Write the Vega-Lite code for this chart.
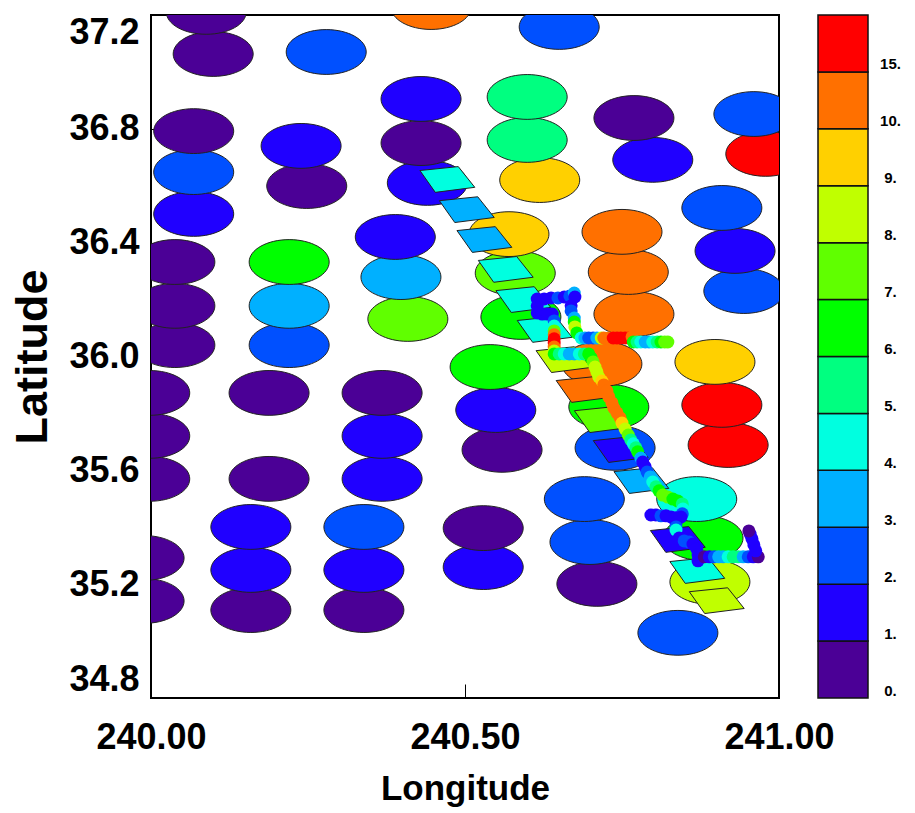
{
"$schema":"https://vega.github.io/schema/vega-lite/v6.json",
"padding":{"left":9,"top":13,"right":0,"bottom":0},
"bounds":"flush",
"spacing":39,
"config":{"view":{"stroke":"black","strokeWidth":2},"concat":{"spacing":39}},
"datasets":{
"ellipses":[
{"lon":240.839,"lat":35.029,"v":2},{"lon":240.159,"lat":35.109,"v":0},{"lon":240.339,"lat":35.109,"v":0},{"lon":239.989,"lat":35.141,"v":0},{"lon":240.710,"lat":35.201,"v":0},{"lon":240.890,"lat":35.208,"v":8},{"lon":240.159,"lat":35.250,"v":1},{"lon":240.339,"lat":35.250,"v":1},{"lon":240.529,"lat":35.260,"v":1},{"lon":239.989,"lat":35.292,"v":0},{"lon":240.699,"lat":35.348,"v":2},{"lon":240.879,"lat":35.362,"v":6},{"lon":240.529,"lat":35.397,"v":0},{"lon":240.159,"lat":35.401,"v":1},{"lon":240.339,"lat":35.401,"v":2},{"lon":240.869,"lat":35.499,"v":4},{"lon":240.690,"lat":35.499,"v":2},{"lon":239.998,"lat":35.570,"v":0},{"lon":240.188,"lat":35.570,"v":0},{"lon":240.368,"lat":35.570,"v":1},{"lon":240.559,"lat":35.672,"v":0},{"lon":240.739,"lat":35.679,"v":2},{"lon":240.919,"lat":35.689,"v":11},{"lon":239.998,"lat":35.721,"v":0},{"lon":240.368,"lat":35.721,"v":1},{"lon":240.549,"lat":35.812,"v":1},{"lon":240.729,"lat":35.823,"v":6},{"lon":240.909,"lat":35.830,"v":11},{"lon":239.998,"lat":35.872,"v":0},{"lon":240.188,"lat":35.872,"v":0},{"lon":240.368,"lat":35.872,"v":0},{"lon":240.540,"lat":35.963,"v":6},{"lon":240.718,"lat":35.974,"v":10},{"lon":240.898,"lat":35.981,"v":9},{"lon":240.038,"lat":36.040,"v":0},{"lon":240.220,"lat":36.040,"v":2},{"lon":240.409,"lat":36.132,"v":7},{"lon":240.589,"lat":36.139,"v":6},{"lon":240.769,"lat":36.149,"v":10},{"lon":240.038,"lat":36.178,"v":0},{"lon":240.220,"lat":36.178,"v":3},{"lon":240.944,"lat":36.230,"v":2},{"lon":240.398,"lat":36.279,"v":3},{"lon":240.580,"lat":36.293,"v":7},{"lon":240.760,"lat":36.297,"v":10},{"lon":240.038,"lat":36.332,"v":0},{"lon":240.220,"lat":36.332,"v":6},{"lon":240.930,"lat":36.371,"v":1},{"lon":240.389,"lat":36.420,"v":1},{"lon":240.570,"lat":36.430,"v":9},{"lon":240.750,"lat":36.438,"v":10},{"lon":240.068,"lat":36.501,"v":1},{"lon":240.909,"lat":36.522,"v":2},{"lon":240.248,"lat":36.599,"v":0},{"lon":240.440,"lat":36.610,"v":1},{"lon":240.619,"lat":36.620,"v":9},{"lon":240.068,"lat":36.648,"v":2},{"lon":240.799,"lat":36.691,"v":1},{"lon":240.979,"lat":36.712,"v":11},{"lon":240.239,"lat":36.740,"v":1},{"lon":240.430,"lat":36.750,"v":0},{"lon":240.599,"lat":36.761,"v":5},{"lon":240.068,"lat":36.792,"v":0},{"lon":240.769,"lat":36.838,"v":0},{"lon":240.960,"lat":36.852,"v":2},{"lon":240.430,"lat":36.905,"v":1},{"lon":240.599,"lat":36.912,"v":5},{"lon":240.099,"lat":37.063,"v":0},{"lon":240.279,"lat":37.070,"v":2},{"lon":240.650,"lat":37.158,"v":2},{"lon":240.088,"lat":37.211,"v":0},{"lon":240.446,"lat":37.228,"v":10}
],
"boxes":[
{"lon":240.471,"lat":36.624,"v":4},{"lon":240.502,"lat":36.518,"v":3},{"lon":240.530,"lat":36.413,"v":3},{"lon":240.564,"lat":36.308,"v":4},{"lon":240.592,"lat":36.202,"v":4},{"lon":240.626,"lat":36.097,"v":4},{"lon":240.656,"lat":35.991,"v":8},{"lon":240.688,"lat":35.886,"v":10},{"lon":240.717,"lat":35.780,"v":7},{"lon":240.747,"lat":35.675,"v":1},{"lon":240.780,"lat":35.566,"v":3},{"lon":240.838,"lat":35.359,"v":1},{"lon":240.869,"lat":35.250,"v":4},{"lon":240.900,"lat":35.144,"v":8}
],
"track":[
{"lon":240.615,"lat":36.202,"v":1},{"lon":240.626,"lat":36.202,"v":1},{"lon":240.637,"lat":36.206,"v":1},{"lon":240.648,"lat":36.206,"v":2},{"lon":240.658,"lat":36.209,"v":1},{"lon":240.667,"lat":36.213,"v":2},{"lon":240.674,"lat":36.223,"v":3},{"lon":240.675,"lat":36.209,"v":1},{"lon":240.669,"lat":36.178,"v":1},{"lon":240.669,"lat":36.160,"v":2},{"lon":240.674,"lat":36.135,"v":3},{"lon":240.674,"lat":36.121,"v":6},{"lon":240.675,"lat":36.104,"v":8},{"lon":240.678,"lat":36.083,"v":6},{"lon":240.685,"lat":36.065,"v":4},{"lon":240.691,"lat":36.065,"v":3},{"lon":240.697,"lat":36.065,"v":2},{"lon":240.704,"lat":36.065,"v":2},{"lon":240.710,"lat":36.065,"v":3},{"lon":240.717,"lat":36.065,"v":8},{"lon":240.721,"lat":36.065,"v":10},{"lon":240.729,"lat":36.065,"v":10},{"lon":240.736,"lat":36.065,"v":11},{"lon":240.742,"lat":36.065,"v":11},{"lon":240.748,"lat":36.065,"v":11},{"lon":240.755,"lat":36.065,"v":11},{"lon":240.761,"lat":36.065,"v":11},{"lon":240.766,"lat":36.069,"v":10},{"lon":240.768,"lat":36.051,"v":6},{"lon":240.774,"lat":36.051,"v":5},{"lon":240.780,"lat":36.051,"v":4},{"lon":240.787,"lat":36.051,"v":3},{"lon":240.793,"lat":36.051,"v":3},{"lon":240.799,"lat":36.051,"v":4},{"lon":240.806,"lat":36.051,"v":5},{"lon":240.812,"lat":36.051,"v":6},{"lon":240.818,"lat":36.051,"v":7},{"lon":240.823,"lat":36.051,"v":7},
{"lon":240.615,"lat":36.178,"v":1},{"lon":240.615,"lat":36.153,"v":1},{"lon":240.623,"lat":36.149,"v":1},{"lon":240.631,"lat":36.149,"v":1},{"lon":240.639,"lat":36.149,"v":1},{"lon":240.642,"lat":36.125,"v":2},{"lon":240.642,"lat":36.107,"v":4},{"lon":240.642,"lat":36.090,"v":7},{"lon":240.642,"lat":36.076,"v":10},{"lon":240.642,"lat":36.062,"v":11},{"lon":240.642,"lat":36.047,"v":11},{"lon":240.642,"lat":36.033,"v":10},{"lon":240.642,"lat":36.019,"v":8},{"lon":240.642,"lat":36.009,"v":6},{"lon":240.650,"lat":36.009,"v":5},{"lon":240.658,"lat":36.009,"v":4},{"lon":240.666,"lat":36.009,"v":3},{"lon":240.674,"lat":36.009,"v":3},{"lon":240.682,"lat":36.009,"v":4},{"lon":240.690,"lat":36.009,"v":5},{"lon":240.697,"lat":36.009,"v":6},{"lon":240.701,"lat":35.995,"v":6},{"lon":240.704,"lat":35.981,"v":7},{"lon":240.707,"lat":35.963,"v":8},{"lon":240.710,"lat":35.946,"v":8},{"lon":240.713,"lat":35.928,"v":8},{"lon":240.718,"lat":35.914,"v":9},{"lon":240.721,"lat":35.900,"v":10},{"lon":240.726,"lat":35.879,"v":10},{"lon":240.729,"lat":35.858,"v":10},{"lon":240.734,"lat":35.837,"v":10},{"lon":240.737,"lat":35.819,"v":10},{"lon":240.742,"lat":35.802,"v":10},{"lon":240.747,"lat":35.784,"v":10},{"lon":240.750,"lat":35.766,"v":9},{"lon":240.755,"lat":35.745,"v":8},{"lon":240.760,"lat":35.724,"v":7},{"lon":240.764,"lat":35.707,"v":5},{"lon":240.768,"lat":35.693,"v":4},{"lon":240.772,"lat":35.679,"v":5},{"lon":240.775,"lat":35.665,"v":6},{"lon":240.780,"lat":35.643,"v":3},{"lon":240.783,"lat":35.629,"v":1},{"lon":240.787,"lat":35.612,"v":1},{"lon":240.790,"lat":35.594,"v":2},{"lon":240.795,"lat":35.577,"v":3},{"lon":240.799,"lat":35.559,"v":4},{"lon":240.804,"lat":35.542,"v":5},{"lon":240.809,"lat":35.528,"v":6},{"lon":240.815,"lat":35.513,"v":7},{"lon":240.823,"lat":35.506,"v":7},{"lon":240.831,"lat":35.499,"v":6},{"lon":240.839,"lat":35.492,"v":6},{"lon":240.846,"lat":35.482,"v":5},{"lon":240.847,"lat":35.464,"v":4},{"lon":240.846,"lat":35.447,"v":2},{"lon":240.844,"lat":35.436,"v":1},
{"lon":240.796,"lat":35.443,"v":1},{"lon":240.804,"lat":35.443,"v":1},{"lon":240.812,"lat":35.440,"v":2},{"lon":240.820,"lat":35.440,"v":1},{"lon":240.828,"lat":35.436,"v":1},{"lon":240.836,"lat":35.433,"v":1},{"lon":240.836,"lat":35.415,"v":1},{"lon":240.836,"lat":35.401,"v":2},{"lon":240.836,"lat":35.390,"v":4},{"lon":240.841,"lat":35.362,"v":1},{"lon":240.849,"lat":35.352,"v":2},{"lon":240.857,"lat":35.348,"v":2},{"lon":240.863,"lat":35.341,"v":1},{"lon":240.869,"lat":35.324,"v":1},{"lon":240.871,"lat":35.303,"v":1},{"lon":240.871,"lat":35.282,"v":1},
{"lon":240.881,"lat":35.296,"v":0},{"lon":240.889,"lat":35.296,"v":1},{"lon":240.897,"lat":35.296,"v":2},{"lon":240.904,"lat":35.296,"v":3},{"lon":240.911,"lat":35.296,"v":3},{"lon":240.919,"lat":35.296,"v":4},{"lon":240.927,"lat":35.296,"v":5},{"lon":240.935,"lat":35.296,"v":5},{"lon":240.943,"lat":35.296,"v":3},{"lon":240.951,"lat":35.296,"v":2},{"lon":240.959,"lat":35.296,"v":1},{"lon":240.967,"lat":35.296,"v":0},{"lon":240.963,"lat":35.317,"v":1},{"lon":240.960,"lat":35.338,"v":1},{"lon":240.957,"lat":35.359,"v":1},{"lon":240.954,"lat":35.376,"v":1},{"lon":240.952,"lat":35.387,"v":0}
],
"bands":[
{"lo":0,"hi":1,"v":0},{"lo":1,"hi":2,"v":1},{"lo":2,"hi":3,"v":2},{"lo":3,"hi":4,"v":3},{"lo":4,"hi":5,"v":4},{"lo":5,"hi":6,"v":5},{"lo":6,"hi":7,"v":6},{"lo":7,"hi":8,"v":7},{"lo":8,"hi":9,"v":8},{"lo":9,"hi":10,"v":9},{"lo":10,"hi":11,"v":10},{"lo":11,"hi":12,"v":11}
]
},
"hconcat":[
{
"width":628,"height":683,
"encoding":{
"x":{"field":"lon","type":"quantitative","scale":{"domain":[240,241],"nice":false,"zero":false},
"axis":{"values":[240,240.5,241],"format":".2f","title":"Longitude","grid":false,"domain":false,"tickSize":-14,"tickColor":"black","labelFlush":false,"labelOverlap":false,"labelFont":"Liberation Sans","labelFontWeight":"bold","labelFontSize":36,"labelColor":"black","labelPadding":36,"titleFont":"Liberation Sans","titleFontWeight":"bold","titleFontSize":35,"titleColor":"black","titlePadding":16}},
"y":{"field":"lat","type":"quantitative","scale":{"domain":[34.8,37.2],"nice":false,"zero":false},
"axis":{"values":[34.8,35.2,35.6,36.0,36.4,36.8,37.2],"format":".1f","title":"Latitude","grid":false,"domain":false,"tickSize":-5,"tickColor":"black","labelFlush":true,"labelFont":"Liberation Sans","labelFontWeight":"bold","labelFontSize":36,"labelColor":"black","labelPadding":17,"titleFont":"Liberation Sans","titleFontWeight":"bold","titleFontSize":45,"titleColor":"black","titlePadding":13}},
"color":{"field":"v","type":"ordinal","legend":null,"scale":{"domain":[0,1,2,3,4,5,6,7,8,9,10,11],"range":["#4b0096","#2000ff","#0050ff","#00b0ff","#00ffe0","#00ff80","#00ff00","#60ff00","#c0ff00","#ffd000","#ff7000","#ff0000"]}}
},
"layer":[
{"data":{"name":"ellipses"},"mark":{"type":"point","filled":true,"clip":true,"opacity":1,"stroke":"#222222","strokeWidth":1,"size":6400,"shape":"M -1 0 A 1 0.56 0 1 1 1 0 A 1 0.56 0 1 1 -1 0 Z"}},
{"data":{"name":"boxes"},"mark":{"type":"point","filled":true,"clip":true,"opacity":1,"stroke":"#222222","strokeWidth":1,"size":3136,"shape":"M -0.96 -0.3 L 0.41 -0.44 L 1 0.3 L -0.41 0.48 Z"}},
{"data":{"name":"track"},"mark":{"type":"circle","clip":true,"opacity":1,"size":169}}
]
},
{
"width":50,"height":683,
"view":{"stroke":null},
"data":{"name":"bands"},
"mark":{"type":"rect","stroke":"#111111","strokeWidth":1.5},
"encoding":{
"y":{"field":"lo","type":"quantitative","scale":{"domain":[0,12],"nice":false,"zero":false},
"axis":{"orient":"right","values":[0,1,2,3,4,5,6,7,8,9,10,11],"labelExpr":"datum.value==11?'15.':datum.value+'.'","title":null,"grid":false,"domain":false,"ticks":false,"labelFont":"Liberation Sans","labelFontWeight":"bold","labelFontSize":15,"labelColor":"black","labelAlign":"center","labelBaseline":"bottom","labelPadding":22}},
"y2":{"field":"hi"},
"color":{"field":"v","type":"ordinal","legend":null,"scale":{"domain":[0,1,2,3,4,5,6,7,8,9,10,11],"range":["#4b0096","#2000ff","#0050ff","#00b0ff","#00ffe0","#00ff80","#00ff00","#60ff00","#c0ff00","#ffd000","#ff7000","#ff0000"]}}
}
}
]
}
